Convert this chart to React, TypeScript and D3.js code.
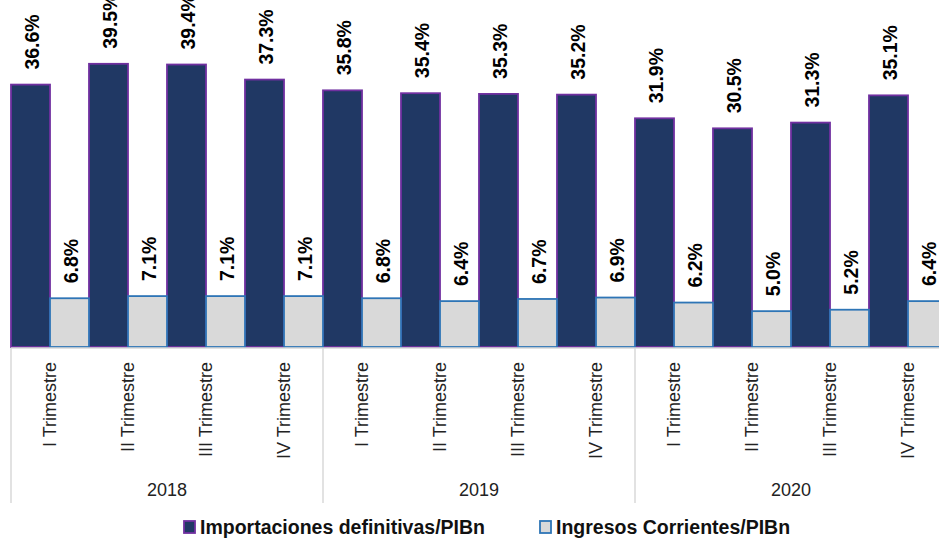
import { useRef, useEffect } from 'react';
import * as d3 from 'd3';

const years = ['2018', '2019', '2020'];
const quarters = ['I Trimestre', 'II Trimestre', 'III Trimestre', 'IV Trimestre'];
const importaciones = [36.6, 39.5, 39.4, 37.3, 35.8, 35.4, 35.3, 35.2, 31.9, 30.5, 31.3, 35.1];
const ingresos = [6.8, 7.1, 7.1, 7.1, 6.8, 6.4, 6.7, 6.9, 6.2, 5.0, 5.2, 6.4];
const seriesNames = ['Importaciones definitivas/PIBn', 'Ingresos Corrientes/PIBn'];

const WIDTH = 939;
const HEIGHT = 548;
const FONT = '"Liberation Sans", Arial, sans-serif';

const NAVY = '#203864';
const PURPLE = '#7030A0';
const GREY = '#D9D9D9';
const BLUE = '#2E75B6';
const AXIS = '#D9D9D9';

export default function App() {
  const svgRef = useRef<SVGSVGElement>(null);

  useEffect(() => {
    if (!svgRef.current) return;
    const svg = d3.select(svgRef.current);
    svg.selectAll('*').remove();

    const categories = years.flatMap((y) => quarters.map((q) => `${y}|${q}`));

    const left = 11;
    const baseline = 347;
    const x = d3.scaleBand<string>().domain(categories).range([left, left + 78 * 12]).padding(0);
    const sub = d3.scaleBand<string>().domain(['imp', 'ing']).range([0, x.bandwidth()]).padding(0);
    const y = d3.scaleLinear().domain([0, 48.4]).range([baseline, 0]);

    const plot = svg.append('g');

    // Importaciones bars
    plot
      .selectAll('.imp')
      .data(importaciones)
      .enter()
      .append('rect')
      .attr('class', 'imp')
      .attr('x', (_, i) => (x(categories[i]) as number) + (sub('imp') as number))
      .attr('y', (d) => y(d))
      .attr('width', sub.bandwidth())
      .attr('height', (d) => baseline - y(d))
      .attr('fill', NAVY)
      .attr('stroke', PURPLE)
      .attr('stroke-width', 1.8);

    // Ingresos columns (grey with blue outline)
    plot
      .selectAll('.ing')
      .data(ingresos)
      .enter()
      .append('rect')
      .attr('class', 'ing')
      .attr('x', (_, i) => (x(categories[i]) as number) + (sub('ing') as number))
      .attr('y', (d) => y(d))
      .attr('width', sub.bandwidth())
      .attr('height', (d) => baseline - y(d))
      .attr('fill', GREY)
      .attr('stroke', BLUE)
      .attr('stroke-width', 1.8);

    // Data labels
    const labelFont = 19.5;
    const addLabels = (values: number[], key: string) => {
      plot
        .selectAll(`.lbl-${key}`)
        .data(values)
        .enter()
        .append('text')
        .attr('class', `lbl-${key}`)
        .attr('transform', (d, i) => {
          const cx = (x(categories[i]) as number) + (sub(key) as number) + sub.bandwidth() / 2 + 1.5;
          return `translate(${cx},${y(d) - 15}) rotate(-90)`;
        })
        .attr('dy', '0.36em')
        .attr('text-anchor', 'start')
        .attr('font-family', FONT)
        .attr('font-weight', 'bold')
        .attr('font-size', labelFont)
        .attr('fill', '#000')
        .text((d) => `${d.toFixed(1)}%`);
    };
    addLabels(importaciones, 'imp');
    addLabels(ingresos, 'ing');

    // Axis
    const axis = svg.append('g');
    axis
      .append('line')
      .attr('x1', left)
      .attr('x2', WIDTH)
      .attr('y1', baseline + 1)
      .attr('y2', baseline + 1)
      .attr('stroke', AXIS)
      .attr('stroke-width', 1.5);

    const groupW = x.bandwidth() * quarters.length;
    axis
      .selectAll('.sep')
      .data(d3.range(years.length + 1))
      .enter()
      .append('line')
      .attr('x1', (i) => left + i * groupW)
      .attr('x2', (i) => left + i * groupW)
      .attr('y1', baseline + 1)
      .attr('y2', 503)
      .attr('stroke', AXIS)
      .attr('stroke-width', 1.5);

    axis
      .selectAll('.qlbl')
      .data(categories)
      .enter()
      .append('text')
      .attr('transform', (d) => `translate(${(x(d) as number) + x.bandwidth() / 2},362) rotate(-90)`)
      .attr('dy', '0.36em')
      .attr('text-anchor', 'end')
      .attr('font-family', FONT)
      .attr('font-size', 18)
      .attr('fill', '#222')
      .text((d) => d.split('|')[1]);

    axis
      .selectAll('.ylbl')
      .data(years)
      .enter()
      .append('text')
      .attr('x', (_, i) => left + i * groupW + groupW / 2)
      .attr('y', 490)
      .attr('dy', '0.36em')
      .attr('text-anchor', 'middle')
      .attr('font-family', FONT)
      .attr('font-size', 18)
      .attr('fill', '#222')
      .text((d) => d);

    // Legend
    const legend = svg.append('g');
    const items = [
      { name: seriesNames[0], fill: NAVY, stroke: PURPLE, x: 184 },
      { name: seriesNames[1], fill: GREY, stroke: BLUE, x: 540 },
    ];
    items.forEach((it) => {
      legend
        .append('rect')
        .attr('x', it.x)
        .attr('y', 521)
        .attr('width', 11)
        .attr('height', 12)
        .attr('fill', it.fill)
        .attr('stroke', it.stroke)
        .attr('stroke-width', 1.8);
      legend
        .append('text')
        .attr('x', it.x + 16)
        .attr('y', 527)
        .attr('dy', '0.36em')
        .attr('font-family', FONT)
        .attr('font-weight', 'bold')
        .attr('font-size', 19.5)
        .attr('fill', '#111')
        .text(it.name);
    });
  }, []);

  return (
    <svg
      ref={svgRef}
      width={WIDTH}
      height={HEIGHT}
      style={{ position: 'absolute', top: 0, left: 0, background: '#fff', overflow: 'hidden' }}
    />
  );
}
